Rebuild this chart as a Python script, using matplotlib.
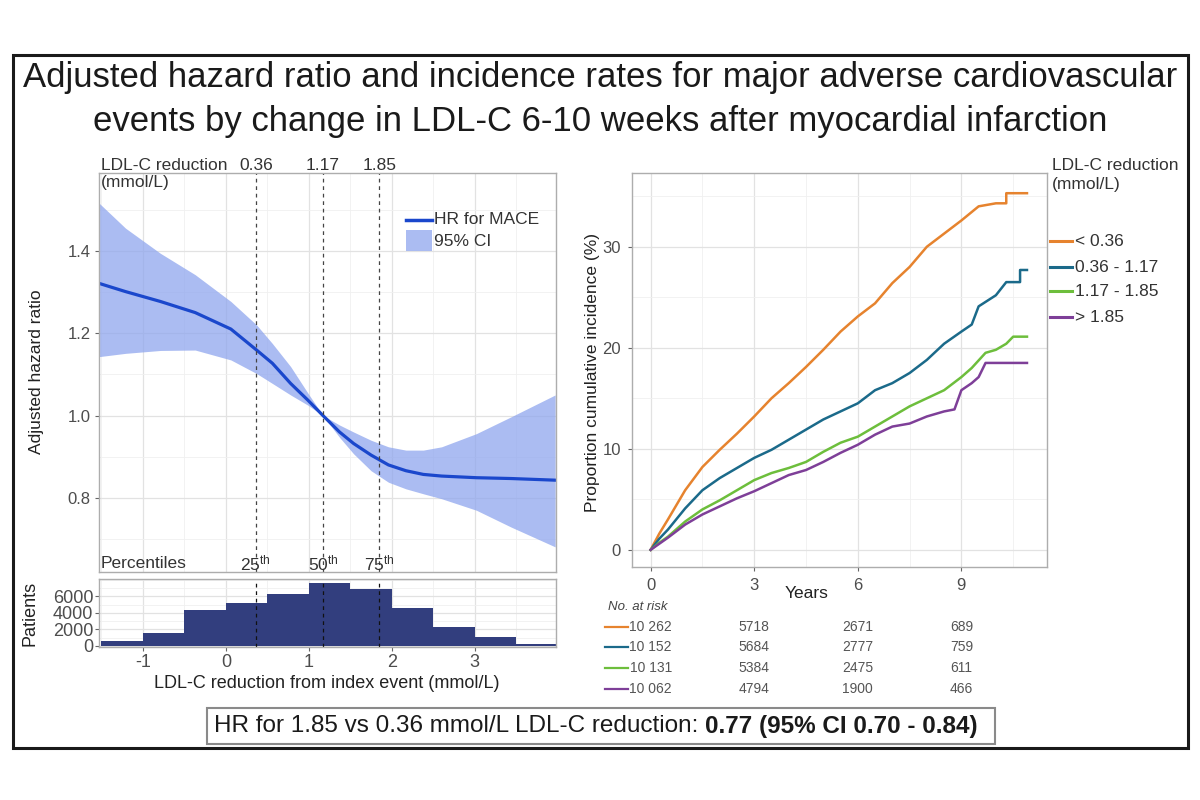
import numpy as np
import matplotlib
matplotlib.use("Agg")
import matplotlib.pyplot as plt
from matplotlib.lines import Line2D
from matplotlib.patches import Rectangle
from matplotlib.ticker import MultipleLocator
from matplotlib.transforms import blended_transform_factory

plt.rcParams["font.family"] = ["Liberation Sans", "DejaVu Sans"]
plt.rcParams["mathtext.fontset"] = "custom"
plt.rcParams["mathtext.rm"] = "Liberation Sans"
plt.rcParams["mathtext.it"] = "Liberation Sans:italic"
plt.rcParams["mathtext.bf"] = "Liberation Sans:bold"
plt.rcParams["axes.unicode_minus"] = False

# --- left panel: adjusted HR by LDL-C reduction (spline + 95% CI)
ldl_x = [-1.53, -1.21, -0.79, -0.37, 0.06, 0.37, 0.56, 0.78, 0.99, 1.17, 1.37,
         1.54, 1.75, 1.96, 2.17, 2.38, 2.60, 2.81, 3.02, 3.44, 3.97]
hr = [1.321, 1.301, 1.277, 1.250, 1.210, 1.159, 1.127, 1.078, 1.037, 1.000, 0.960,
      0.932, 0.904, 0.880, 0.866, 0.857, 0.853, 0.851, 0.849, 0.847, 0.843]
hr_hi = [1.516, 1.455, 1.394, 1.342, 1.277, 1.220, 1.175, 1.119, 1.054, 1.000, 0.977,
         0.960, 0.940, 0.924, 0.916, 0.916, 0.924, 0.940, 0.956, 0.997, 1.050]
hr_lo = [1.143, 1.151, 1.158, 1.159, 1.135, 1.102, 1.078, 1.050, 1.025, 1.000, 0.947,
         0.907, 0.866, 0.838, 0.822, 0.810, 0.798, 0.784, 0.770, 0.729, 0.681]
pct_vals = [0.36, 1.17, 1.85]
pct_names = ["25", "50", "75"]

# --- histogram of patients
bin_edges = [-1.5, -1.0, -0.5, 0.0, 0.5, 1.0, 1.5, 2.0, 2.5, 3.0, 3.5, 4.0]
patients = [527, 1540, 4380, 5190, 6280, 7620, 6890, 4580, 2270, 1010, 240]

# --- right panel: cumulative incidence by group
groups = ["< 0.36", "0.36 - 1.17", "1.17 - 1.85", "> 1.85"]
colors = ["#E6832E", "#1B6A8A", "#6DBE3C", "#7E3F98"]
t_g1 = [0, 0.25, 0.5, 1, 1.5, 2, 2.5, 3, 3.5, 4, 4.5, 5, 5.5, 6, 6.5, 7, 7.5, 8,
        8.5, 9, 9.5, 10, 10.3, 10.3, 10.9]
inc_g1 = [0, 1.6, 3.0, 5.9, 8.2, 9.9, 11.5, 13.2, 15.0, 16.5, 18.1, 19.8, 21.6, 23.1,
          24.4, 26.4, 28.0, 30.0, 31.3, 32.6, 34.0, 34.3, 34.3, 35.3, 35.3]
t_g2 = [0, 0.25, 0.5, 1, 1.5, 2, 2.5, 3, 3.5, 4, 4.5, 5, 5.5, 6, 6.5, 7, 7.5, 8,
        8.5, 9, 9.3, 9.5, 10, 10.3, 10.7, 10.7, 10.9]
inc_g2 = [0, 1.1, 2.0, 4.1, 5.9, 7.1, 8.1, 9.1, 9.9, 10.9, 11.9, 12.9, 13.7, 14.5,
          15.8, 16.5, 17.5, 18.8, 20.4, 21.6, 22.3, 24.1, 25.2, 26.5, 26.5, 27.7, 27.7]
t_g3 = [0, 0.25, 0.5, 1, 1.5, 2, 2.5, 3, 3.5, 4, 4.5, 5, 5.5, 6, 6.5, 7, 7.5, 8,
        8.5, 9, 9.3, 9.7, 10, 10.3, 10.5, 10.9]
inc_g3 = [0, 0.7, 1.3, 2.8, 4.0, 4.9, 5.9, 6.9, 7.6, 8.1, 8.7, 9.7, 10.6, 11.2, 12.2,
          13.2, 14.2, 15.0, 15.8, 17.1, 18.0, 19.5, 19.8, 20.4, 21.1, 21.1]
t_g4 = [0, 0.25, 0.5, 1, 1.5, 2, 2.5, 3, 3.5, 4, 4.5, 5, 5.5, 6, 6.5, 7, 7.5, 8,
        8.5, 8.8, 9.0, 9.3, 9.5, 9.7, 10.9]
inc_g4 = [0, 0.6, 1.2, 2.5, 3.5, 4.3, 5.1, 5.8, 6.6, 7.4, 7.9, 8.7, 9.6, 10.4, 11.4,
          12.2, 12.5, 13.2, 13.7, 13.9, 15.8, 16.5, 17.1, 18.5, 18.5]
times = [t_g1, t_g2, t_g3, t_g4]
incs = [inc_g1, inc_g2, inc_g3, inc_g4]

at_risk_years = [0, 3, 6, 9]
at_risk = [[10262, 5718, 2671, 689],
           [10152, 5684, 2777, 759],
           [10131, 5384, 2475, 611],
           [10062, 4794, 1900, 466]]

W, H = 1200, 800


def px(x):
    return x / W


def py(y):
    return 1 - y / H


def bw(ax):
    for s in ax.spines.values():
        s.set_color("#ADADAD")
        s.set_linewidth(1.0)
    ax.grid(True, which="major", color="#E2E2E2", lw=0.9)
    ax.grid(True, which="minor", color="#F0F0F0", lw=0.6)
    ax.set_axisbelow(True)
    ax.tick_params(which="major", length=3, width=0.8, color="#666666",
                   labelcolor="#4D4D4D", labelsize=12, pad=3)
    ax.tick_params(which="minor", length=0)


fig = plt.figure(figsize=(12, 8), dpi=100)

# main HR panel
ax = fig.add_axes([px(99), py(572), px(556 - 99), (572 - 173) / H])
bw(ax)
ax.fill_between(ldl_x, hr_lo, hr_hi, color="#8FA6EE", alpha=0.75, lw=0)
ax.plot(ldl_x, hr, color="#1A47CC", lw=2.3)
for v in pct_vals:
    ax.axvline(v, color="#444444", ls=(0, (3, 3)), lw=0.9)
ax.set_xlim(-1.53, 3.98)
ax.set_ylim(0.62, 1.589)
ax.xaxis.set_major_locator(MultipleLocator(1))
ax.xaxis.set_minor_locator(MultipleLocator(0.5))
ax.yaxis.set_major_locator(MultipleLocator(0.2))
ax.yaxis.set_minor_locator(MultipleLocator(0.1))
ax.tick_params(axis="x", length=0, labelbottom=False)
ax.set_yticks([0.8, 1.0, 1.2, 1.4])
ax.set_yticklabels(["0.8", "1.0", "1.2", "1.4"])

tr = blended_transform_factory(ax.transData, fig.transFigure)
fig.text(px(101), py(165), "LDL-C reduction", fontsize=12.5, color="#333333",
         ha="left", va="center")
fig.text(px(101), py(183), "(mmol/L)", fontsize=12.5, color="#333333",
         ha="left", va="center")
fig.text(px(101), py(563), "Percentiles", fontsize=12.5, color="#333333",
         ha="left", va="center")
for v, n in zip(pct_vals, pct_names):
    ax.text(v, py(165), f"{v:.2f}", transform=tr, fontsize=12.5, color="#333333",
            ha="center", va="center")
    ax.text(v, py(563), n + r"$^{\mathrm{th}}$", transform=tr, fontsize=12.5,
            color="#333333", ha="center", va="center")
fig.text(px(37), py(372), "Adjusted hazard ratio", rotation=90, fontsize=12.5,
         color="#222222", ha="center", va="center")

# legend of HR panel
fig.add_artist(Line2D([px(406), px(432)], [py(220), py(220)], color="#1A47CC",
                      lw=2.5, transform=fig.transFigure))
fig.add_artist(Rectangle((px(406), py(251)), px(26), 21 / H, color="#8FA6EE",
                         alpha=0.75, lw=0, transform=fig.transFigure))
fig.text(px(434), py(220), "HR for MACE", fontsize=12.5, color="#333333", va="center")
fig.text(px(434), py(241), "95% CI", fontsize=12.5, color="#333333", va="center")

# histogram
axh = fig.add_axes([px(99), py(647), px(556 - 99), (647 - 579) / H])
bw(axh)
axh.bar(bin_edges[:-1], patients, width=np.diff(bin_edges), align="edge",
        color="#323E7E", lw=0)
for v in pct_vals:
    axh.axvline(v, color="#111111", ls=(0, (3, 3)), lw=0.9)
axh.set_xlim(-1.53, 3.98)
axh.set_ylim(-150, 8100)
axh.xaxis.set_major_locator(MultipleLocator(1))
axh.xaxis.set_minor_locator(MultipleLocator(0.5))
axh.set_yticks([0, 2000, 4000, 6000])
axh.yaxis.set_minor_locator(MultipleLocator(1000))
axh.tick_params(labelsize=13, pad=2)
axh.tick_params(axis="y", pad=1)
fig.text(px(30), py(613), "Patients", rotation=90, fontsize=13, color="#222222",
         ha="center", va="center")
fig.text(px(327), py(683), "LDL-C reduction from index event (mmol/L)", fontsize=13,
         color="#222222", ha="center", va="center")

# cumulative incidence panel
axr = fig.add_axes([px(632), py(567), px(1047 - 632), (567 - 173) / H])
bw(axr)
for t, y, c in zip(times, incs, colors):
    axr.plot(t, y, color=c, lw=1.8)
axr.set_xlim(-0.54, 11.48)
axr.set_ylim(-1.7, 37.3)
axr.set_xticks(at_risk_years)
axr.xaxis.set_minor_locator(MultipleLocator(1.5))
axr.set_yticks([0, 10, 20, 30])
axr.yaxis.set_minor_locator(MultipleLocator(5))
axr.tick_params(axis="x", pad=5)
axr.tick_params(axis="y", pad=5)
fig.text(px(592), py(372), "Proportion cumulative incidence (%)", rotation=90,
         fontsize=12.5, color="#222222", ha="center", va="center")
fig.text(px(807), py(593), "Years", fontsize=12.5, color="#222222",
         ha="center", va="center")

# legend of incidence panel
fig.text(px(1052), py(165), "LDL-C reduction", fontsize=12.5, color="#333333",
         ha="left", va="center")
fig.text(px(1052), py(185), "(mmol/L)", fontsize=12.5, color="#333333",
         ha="left", va="center")
for i, (g, c) in enumerate(zip(groups, colors)):
    yy = [241, 267, 291, 317][i]
    fig.add_artist(Line2D([px(1050), px(1072)], [py(yy), py(yy)], color=c, lw=2.2,
                          transform=fig.transFigure))
    fig.text(px(1075), py(yy), g, fontsize=12.5, color="#333333", va="center")

# number at risk table
trr = blended_transform_factory(axr.transData, fig.transFigure)
fig.text(px(608), py(607), "No. at risk", fontsize=9.5, style="italic",
         color="#444444", va="center")
for i, (row, c) in enumerate(zip(at_risk, colors)):
    yy = [627, 647, 668, 689][i]
    fig.add_artist(Line2D([px(605), px(628)], [py(yy), py(yy)], color=c, lw=1.6,
                          transform=fig.transFigure))
    for yr, n in zip(at_risk_years, row):
        lab = f"{n:,}".replace(",", " ") if n >= 10000 else str(n)
        axr.text(yr, py(yy), lab, transform=trr, fontsize=10, color="#555555",
                 ha="center", va="center")

# title
fig.text(0.5, py(78), "Adjusted hazard ratio and incidence rates for major adverse "
         "cardiovascular", fontsize=25, color="#1A1A1A", ha="center", va="center")
fig.text(0.5, py(121), "events by change in LDL-C 6-10 weeks after myocardial "
         "infarction", fontsize=25, color="#1A1A1A", ha="center", va="center")

# summary box
fig.add_artist(Rectangle((px(207), py(744)), px(995 - 207), 36 / H, fill=False,
                         ec="#8A8A8A", lw=1.5, transform=fig.transFigure))
t1 = fig.text(px(214), py(726), "HR for 1.85 vs 0.36 mmol/L LDL-C reduction:",
              fontsize=17.5, color="#1A1A1A", ha="left", va="center")
renderer = fig.canvas.get_renderer()
bb = t1.get_window_extent(renderer=renderer)
fig.text(bb.x1 / W + px(7), py(726), "0.77 (95% CI 0.70 - 0.84)", fontsize=17.5,
         fontweight="bold", color="#1A1A1A", ha="left", va="center")

# outer frame
fig.add_artist(Rectangle((px(13), py(748)), px(1188 - 13), (748 - 55) / H,
                         fill=False, ec="#1A1A1A", lw=2.2, transform=fig.transFigure))

fig.savefig("out.png", dpi=100)
